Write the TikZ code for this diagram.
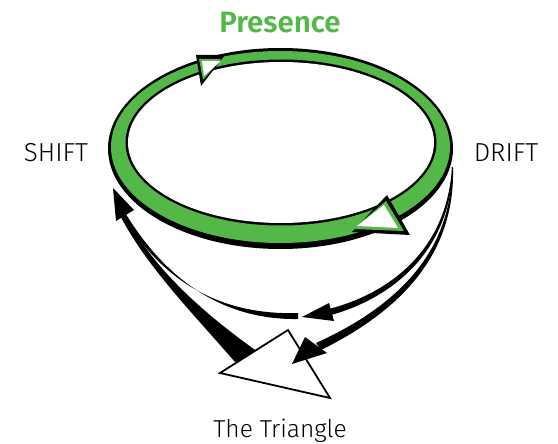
\documentclass[tikz,border=0pt]{standalone}
\usepackage{fontspec}
\setmainfont{Fira Sans Light}[BoldFont={Fira Sans SemiBold}]
\usepackage{tikz}
\usetikzlibrary{positioning, arrows.meta, calc}
\definecolor{PresenceGreen}{RGB}{84,184,72}
\colorlet{RingEdge}{black}

\begin{document}
\begin{tikzpicture}[x=1pt, y=-1pt, font=\fontsize{26}{30}\selectfont,
  word/.style={inner sep=0pt, anchor=base},
  shaft/.style={fill=black},
  tip/.style={fill=black}]
  \useasboundingbox (0,0) rectangle (558,444);

  % ring
  \fill[RingEdge] (280.5,148.5) ellipse [x radius=172.5pt, y radius=100.5pt];
  \fill[PresenceGreen] (280.5,147) ellipse [x radius=169.5pt, y radius=96pt];
  \fill[RingEdge] (281,142.5) ellipse [x radius=155.5pt, y radius=83pt];
  \fill[white] (281,142.5) ellipse [x radius=153pt, y radius=80.5pt];
  % arrows on the ring
  \fill[tip] (196,55) -- (201,86) -- (225,55) -- cycle;
  \fill[PresenceGreen] (199,59) -- (203,80) -- (221,59) -- cycle;
  \fill[white] (202,61) -- (204,76) -- (221,61) -- cycle;
  \fill[tip] (387,195) -- (410,235) -- (352,232) -- cycle;
  \fill[PresenceGreen] (386,201) -- (404,231) -- (353,229) -- cycle;
  \fill[white] (384,205) -- (398,228) -- (357,226) -- cycle;

  % labels
  \node[word, font=\fontsize{29.5}{34}\selectfont\bfseries, text=PresenceGreen] (presence) at (280,33) {Presence};
  \node[word] (shift) at (56,162) {SHIFT};
  \node[word] (drift) at (506,162) {DRIFT};
  \node[word, font=\fontsize{24.5}{29}\selectfont] (triangle) at (280,437) {The Triangle};

  \coordinate (driftout) at (452,167);
  \coordinate (shiftin) at (113,188);
  \coordinate (bottomend) at (302,317);
  \coordinate (tA) at (288,330);
  \coordinate (tB) at (220,373);
  \coordinate (tC) at (330,398);
  \coordinate (trihit) at (292,364);

  % shift side: wedge out of the triangle and the bottom return
  \fill[shaft] (115,205) .. controls (140,260) and (190,310) .. (235,362)
    -- (258,352) .. controls (193,306) and (144,258) .. (119,203) -- cycle;
  \fill[shaft] (298,313) .. controls (240,315) and (170,297) .. (121,212)
    -- (124,211) .. controls (175,296) and (240,320) .. (298,319) -- cycle;
  \fill[tip] (shiftin) -- (116,221) -- (134,210) -- cycle;

  % triangle
  \draw[fill=white, line width=1.8pt, line join=miter] (tA) -- (tB) -- (tC) -- cycle;

  % drift side
  \fill[shaft] (driftout) .. controls (447,250) and (390,293) .. (329,309)
    -- (331,315) .. controls (392,298) and (450,252) .. (453,168) -- cycle;
  \fill[tip] (bottomend) -- (329,303) -- (334,321) -- cycle;
  \fill[shaft] (driftout) .. controls (452,250) and (400,305) .. (316,343)
    -- (321,350) .. controls (404,309) and (455,252) .. (453,168) -- cycle;
  \fill[tip] (trihit) -- (305,337) -- (327,353) -- cycle;
\end{tikzpicture}
\end{document}
